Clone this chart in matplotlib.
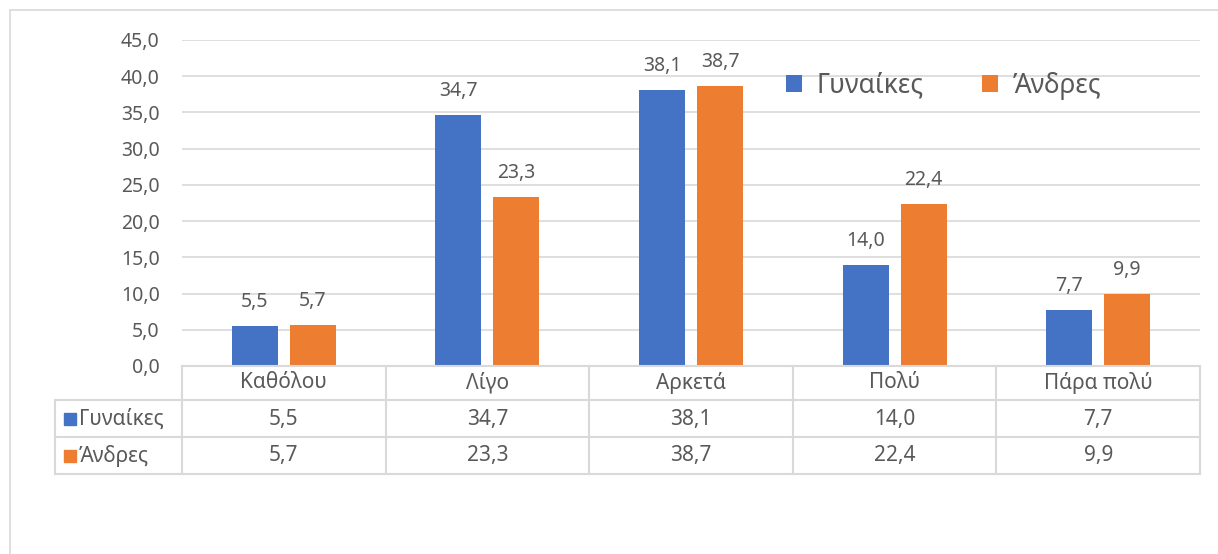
import matplotlib.pyplot as plt
from matplotlib.transforms import blended_transform_factory
from matplotlib.lines import Line2D
from matplotlib.patches import Rectangle

plt.rcParams['font.family'] = ['Noto Sans', 'DejaVu Sans']

categories = ["Καθόλου", "Λίγο", "Αρκετά", "Πολύ", "Πάρα πολύ"]
women = [5.5, 34.7, 38.1, 14.0, 7.7]
men = [5.7, 23.3, 38.7, 22.4, 9.9]
series_names = ["Γυναίκες", "Άνδρες"]
yticks = [0, 5, 10, 15, 20, 25, 30, 35, 40, 45]

colors = ["#4472C4", "#ED7D31"]
text_color = "#595959"
line_color = "#D9D9D9"
fs = 14
fs_table = 15

W, H = 1218, 554
fig = plt.figure(figsize=(W / 100, H / 100), dpi=100)


def fx(px):
    return px / W


def fy(py):
    return 1 - py / H


def fmt(v):
    return f"{v:.1f}".replace(".", ",")


# chart border
fig.patches.append(Rectangle((fx(10), -0.2), 1.5, fy(10) + 0.2, transform=fig.transFigure,
                             fill=False, edgecolor=line_color, lw=1.2))

ax = fig.add_axes([fx(182), fy(366), fx(1200) - fx(182), fy(40) - fy(366)])

x = list(range(len(categories)))
width = 0.226
off = 0.1425
for vals, name, col, sgn in [(women, series_names[0], colors[0], -1), (men, series_names[1], colors[1], 1)]:
    bars = ax.bar([i + sgn * off for i in x], vals, width, color=col, label=name, zorder=3)
    ax.bar_label(bars, labels=[fmt(v) for v in vals], padding=10, fontsize=fs, color=text_color)

ax.set_xlim(-0.5, len(categories) - 0.5)
ax.set_ylim(0, 45)
ax.set_yticks(yticks)
ax.set_yticklabels([fmt(v) for v in yticks], fontsize=fs, color=text_color)
ax.tick_params(axis='y', length=0, pad=16)
ax.set_xticks([])
for s in ax.spines.values():
    s.set_visible(False)
ax.grid(axis='y', color=line_color, lw=1.2, zorder=0)

ax.legend(ncol=2, frameon=False, loc='upper left', bbox_to_anchor=(fx(762), fy(48)),
          bbox_transform=fig.transFigure, fontsize=19, handlelength=0.62, handleheight=0.62,
          handletextpad=0.55, columnspacing=2.2, labelcolor=text_color)

# data table
trans = blended_transform_factory(ax.transData, fig.transFigure)
row_y = [366, 400, 437, 474]
for py in row_y[1:]:
    fig.add_artist(Line2D([fx(55), fx(1200)], [fy(py), fy(py)], color=line_color, lw=1.5))
fig.add_artist(Line2D([fx(182), fx(1200)], [fy(366), fy(366)], color=line_color, lw=1.5))
fig.add_artist(Line2D([fx(55), fx(55)], [fy(400), fy(474)], color=line_color, lw=1.5))
for i in range(len(categories) + 1):
    fig.add_artist(Line2D([i - 0.5, i - 0.5], [fy(366), fy(474)], color=line_color, lw=1.5, transform=trans))

for i, cat in enumerate(categories):
    fig.text(i, fy(383), cat, transform=trans, ha='center', va='center', fontsize=fs_table, color=text_color)
    fig.text(i, fy(419), fmt(women[i]), transform=trans, ha='center', va='center', fontsize=fs_table, color=text_color)
    fig.text(i, fy(456), fmt(men[i]), transform=trans, ha='center', va='center', fontsize=fs_table, color=text_color)

for name, col, cy in [(series_names[0], colors[0], 419), (series_names[1], colors[1], 456)]:
    fig.patches.append(Rectangle((fx(64), fy(cy + 6)), fx(12), fy(cy - 6) - fy(cy + 6),
                                 transform=fig.transFigure, color=col))
    fig.text(fx(79), fy(cy), name, ha='left', va='center', fontsize=fs_table, color=text_color)

fig.savefig("out.png", dpi=100)
